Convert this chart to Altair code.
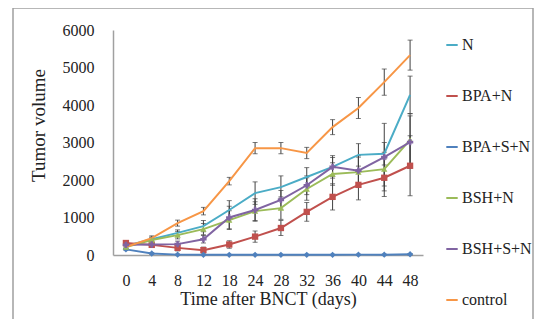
import altair as alt
import pandas as pd

days = ["0", "4", "8", "12", "18", "24", "28", "32", "36", "40", "44", "48"]
series_names = ["N", "BPA+N", "BPA+S+N", "BSH+N", "BSH+S+N", "control"]
colors = ["#4BACC6", "#C0504D", "#4F81BD", "#9BBB59", "#8064A2", "#F79646"]

N = [240, 420, 590, 770, 1200, 1650, 1810, 2080, 2350, 2670, 2700, 4270]
BPA_N = [320, 270, 190, 130, 280, 490, 720, 1150, 1550, 1870, 2060, 2380]
BPA_S_N = [150, 40, 10, 5, 5, 5, 5, 5, 5, 10, 10, 20]
BSH_N = [210, 400, 530, 690, 930, 1170, 1250, 1760, 2160, 2210, 2290, 3070]
BSH_S_N = [270, 280, 290, 420, 1000, 1200, 1470, 1860, 2350, 2250, 2610, 3010]
control = [213, 450, 850, 1170, 1970, 2850, 2850, 2720, 3410, 3920, 4610, 5330]

N_err = [50, 60, 80, 150, 250, 300, 300, 250, 250, 300, 300, 500]
BPA_N_err = [60, 60, 80, 80, 100, 150, 200, 250, 350, 400, 500, 800]
BPA_S_N_err = [20, 20, 10, 5, 5, 5, 5, 5, 5, 10, 10, 20]
BSH_N_err = [50, 60, 100, 150, 250, 250, 300, 300, 300, 400, 450, 700]
BSH_S_N_err = [50, 60, 80, 100, 300, 300, 250, 250, 300, 400, 900, 700]
control_err = [60, 60, 80, 100, 100, 150, 150, 150, 200, 280, 350, 400]

y_ticks = [0, 1000, 2000, 3000, 4000, 5000, 6000]

values = [N, BPA_N, BPA_S_N, BSH_N, BSH_S_N, control]
errs = [N_err, BPA_N_err, BPA_S_N_err, BSH_N_err, BSH_S_N_err, control_err]

rows = []
for name, vals, es in zip(series_names, values, errs):
    for d, v, e in zip(days, vals, es):
        rows.append({"day": d, "series": name, "value": v,
                     "lo": max(v - e, 0), "hi": v + e})
df = pd.DataFrame(rows)

FONT = "Liberation Serif"

x = alt.X("day:N", sort=days, scale=alt.Scale(type="point", padding=0.5),
          axis=alt.Axis(title="Time after BNCT (days)", labelAngle=0, ticks=False,
                        labelPadding=17, titleY=35, titleBaseline="top",
                        titleFontSize=18, labelFontSize=16))
yscale = alt.Scale(domain=[0, 6000], nice=False)
yaxis = alt.Axis(title="Tumor volume", values=y_ticks, labelOverlap=False,
                 format="d", ticks=False, labelPadding=19, grid=False,
                 titleX=-65, titleY=95, titleFontSize=19, labelFontSize=16)
y = alt.Y("value:Q", scale=yscale, axis=yaxis)
color = alt.Color("series:N", scale=alt.Scale(domain=series_names, range=colors),
                  legend=alt.Legend(title=None, orient="none", legendX=331, legendY=7,
                                    symbolType="stroke", symbolStrokeWidth=2, symbolSize=130,
                                    labelFontSize=16, labelFont=FONT, labelColor="#222",
                                    rowPadding=35, labelOffset=2))

base = alt.Chart(df)

frame = alt.Chart(pd.DataFrame({"a": [0]})).mark_rect(
    fill=None, stroke="#A0A0A0", strokeWidth=1.5).encode(
    x=alt.value(-100), x2=alt.value(420), y=alt.value(-22), y2=alt.value(300))

err_rule = base.mark_rule(color="#404040", strokeWidth=1).encode(
    x=x, y=alt.Y("lo:Q", scale=yscale, axis=yaxis), y2="hi:Q")
err_lo = base.mark_tick(color="#404040", orient="horizontal", size=5, thickness=1).encode(
    x=x, y=alt.Y("lo:Q", scale=yscale, axis=yaxis))
err_hi = base.mark_tick(color="#404040", orient="horizontal", size=5, thickness=1).encode(
    x=x, y=alt.Y("hi:Q", scale=yscale, axis=yaxis))

lines = base.mark_line(strokeWidth=2).encode(x=x, y=y, color=color)

marker_series = ["BPA+N", "BPA+S+N", "BSH+N", "BSH+S+N"]
points = base.transform_filter(
    alt.FieldOneOfPredicate(field="series", oneOf=marker_series)
).mark_point(filled=True, opacity=1).encode(
    x=x, y=y,
    color=alt.Color("series:N", scale=alt.Scale(domain=series_names, range=colors), legend=None),
    shape=alt.Shape("series:N", scale=alt.Scale(domain=marker_series,
                                                range=["square", "diamond", "triangle-up", "cross"]),
                    legend=None),
    size=alt.value(40))

chart = alt.layer(frame, err_rule, err_lo, err_hi, lines, points).properties(
    width=310, height=225,
    background="white",
    autosize=alt.AutoSizeParams(type="none"),
    padding={"left": 105, "top": 22, "right": 111, "bottom": 64},
).configure_view(stroke=None).configure_axis(
    labelFont=FONT, titleFont=FONT, labelColor="#222", titleColor="#222",
    titleFontWeight="normal", domainColor="#A0A0A0", domainWidth=1.5
)

chart.save("out.html", embed_options={"renderer": "svg", "actions": False})
